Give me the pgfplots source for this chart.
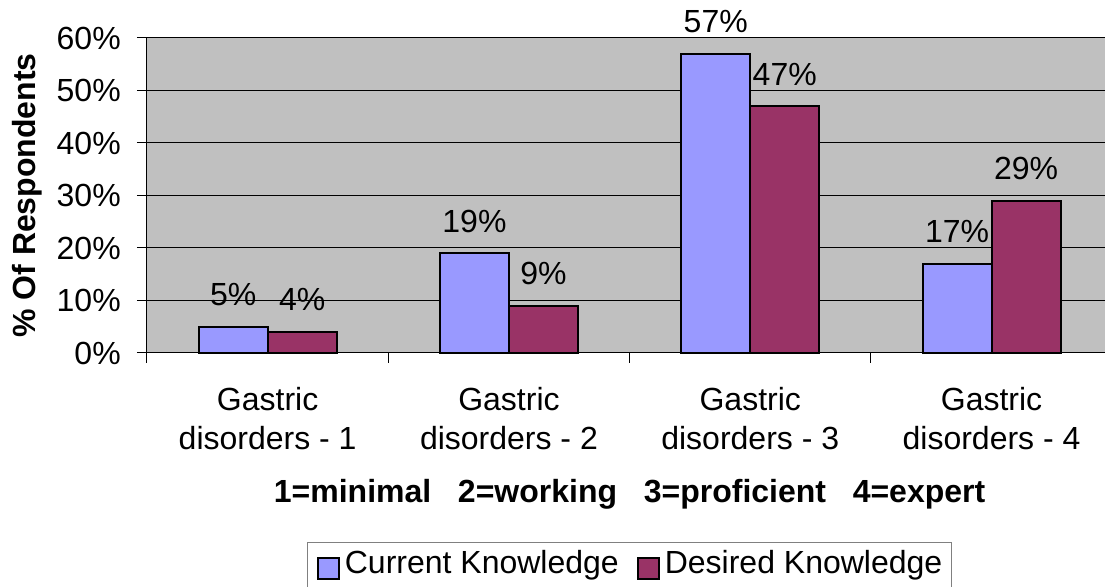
\documentclass[border=0pt]{standalone}
\usepackage{fontspec}
\setmainfont{Liberation Sans}
\usepackage{pgfplots}
\pgfplotsset{compat=1.18}
\definecolor{plotbg}{HTML}{C0C0C0}
\definecolor{curr}{HTML}{9999FF}
\definecolor{desi}{HTML}{993366}
\pgfplotsset{sqlegend/.style={legend image code/.code={
  \draw[##1, draw=black, line width=1pt] (0pt,-2.5pt) rectangle (10.5pt,8pt);}}}

\begin{document}
\begin{tikzpicture}[font=\fontsize{16}{19.5}\selectfont]
\path[use as bounding box] (-73.5pt,-117pt) rectangle (479pt,176.5pt);
\begin{axis}[
  at={(0,0)}, anchor=south west,
  scale only axis, width=482.6pt, height=157.5pt,
  ybar=0pt, bar width=0.286,
  xmin=-0.5, xmax=3.5, ymin=0, ymax=60,
  clip=false,
  axis background/.style={fill=plotbg},
  axis lines*=left,
  axis line style={black, line width=0.5pt},
  /pgf/number format/assume math mode=true,
  tick align=outside, major tick length=5pt, minor tick length=5pt,
  ytick={0,10,...,60},
  yticklabel={\pgfmathprintnumber{\tick}\%},
  yticklabel style={xshift=-4.6pt},
  y tick style={black, line width=0.5pt},
  ymajorgrids, grid style={black, line width=0.5pt},
  xtick={0,1,2,3},
  xticklabels={{Gastric\\disorders - 1},{Gastric\\disorders - 2},
    {Gastric\\disorders - 3},{Gastric\\disorders - 4}},
  major x tick style={draw=none},
  minor xtick={-0.5,0.5,1.5,2.5,3.5},
  minor x tick style={black, line width=0.5pt},
  xticklabel style={align=center, anchor=north, inner sep=0pt, yshift=-12pt},
  xlabel={\bfseries 1=minimal~~~2=working~~~3=proficient~~~4=expert},
  xlabel style={at={(axis description cs:0.5,0)}, anchor=base, inner sep=0pt, yshift=-75pt},
  ylabel={\bfseries\% Of Respondents},
  ylabel style={at={(axis description cs:0,0.5)}, anchor=base, inner sep=0pt, yshift=55.5pt},
  nodes near coords={\pgfmathprintnumber{\pgfplotspointmeta}\%},
  nodes near coords style={anchor=base, inner sep=0pt, yshift=10.5pt},
  legend columns=2,
  legend style={at={(0.5,-0.6)}, anchor=north, draw=gray, line width=0.5pt,
    fill=white, inner xsep=4.5pt, inner ysep=4pt,
    nodes={inner sep=0pt, anchor=base},
    /tikz/every odd column/.append style={column sep=2.5pt},
    /tikz/every even column/.append style={column sep=9pt}},
]
\addplot[fill=curr, draw=black, line width=1pt, sqlegend] coordinates {
  (0,5) (1,19) (2,57) (3,17)};
\addplot[fill=desi, draw=black, line width=1pt, sqlegend] coordinates {
  (0,4) (1,9) (2,47) (3,29)};
\legend{Current Knowledge, Desired Knowledge}
\end{axis}
\end{tikzpicture}
\end{document}
